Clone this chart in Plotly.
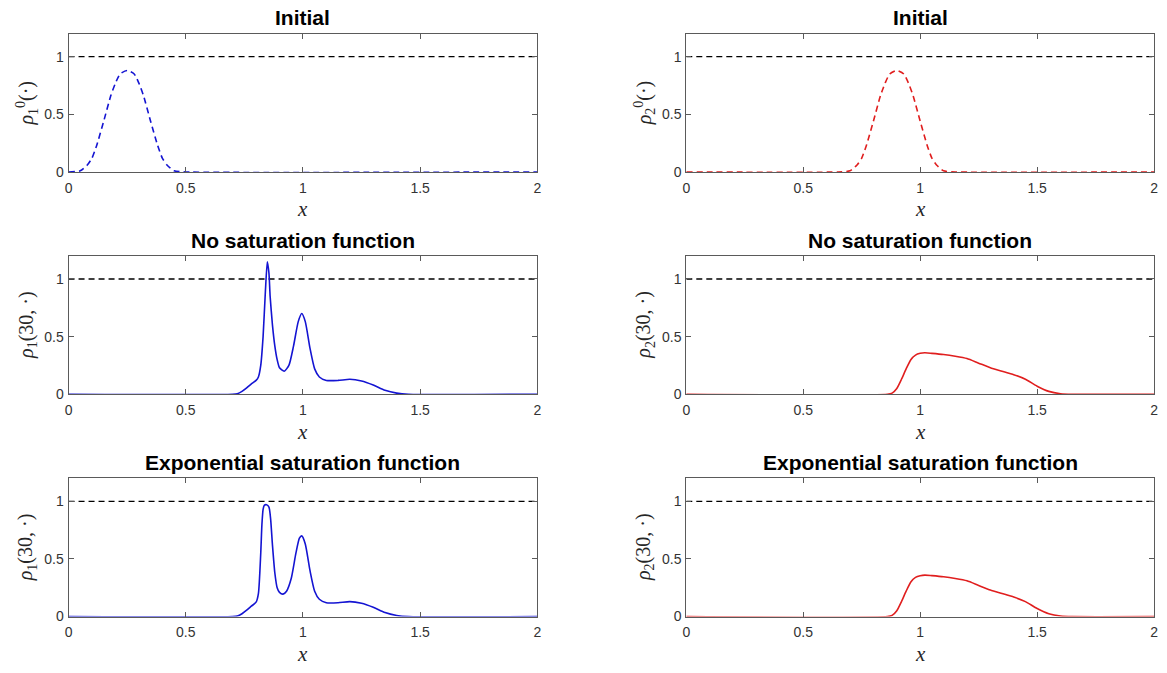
import plotly.graph_objects as go

# ---------------- data ----------------
ref_x = [0, 2]
ref_y = [1, 1]

x_init1 = [0, 0.05, 0.08, 0.10, 0.12, 0.15, 0.18, 0.20, 0.22, 0.25, 0.28, 0.30, 0.32, 0.35, 0.38, 0.40, 0.42, 0.45, 0.50, 2.0]
y_init1 = [0, 0.01, 0.06, 0.12, 0.23, 0.44, 0.66, 0.77, 0.85, 0.88, 0.85, 0.77, 0.66, 0.44, 0.23, 0.12, 0.06, 0.01, 0.0, 0.0]

x_init2 = [0, 0.65, 0.70, 0.73, 0.75, 0.77, 0.80, 0.83, 0.85, 0.87, 0.90, 0.93, 0.95, 0.97, 1.00, 1.03, 1.05, 1.07, 1.10, 1.15, 2.0]
y_init2 = [0, 0.0, 0.01, 0.06, 0.12, 0.23, 0.44, 0.66, 0.77, 0.85, 0.88, 0.85, 0.77, 0.66, 0.44, 0.23, 0.12, 0.06, 0.01, 0.0, 0.0]

x_nosat1 = [0, 0.70, 0.72, 0.74, 0.76, 0.78, 0.80, 0.81, 0.82, 0.83, 0.84, 0.848, 0.855, 0.86, 0.87, 0.88, 0.89, 0.90,
            0.92, 0.94, 0.96, 0.98, 0.995, 1.01, 1.03, 1.05, 1.07, 1.10, 1.15, 1.20, 1.25, 1.30, 1.35, 1.40, 1.45, 2.0]
y_nosat1 = [0, 0.0, 0.005, 0.025, 0.055, 0.09, 0.12, 0.15, 0.25, 0.50, 0.90, 1.15, 1.05, 0.85, 0.60, 0.42, 0.30, 0.23,
            0.20, 0.25, 0.42, 0.63, 0.70, 0.63, 0.40, 0.22, 0.15, 0.12, 0.12, 0.13, 0.115, 0.08, 0.035, 0.01, 0.0, 0.0]

x_expsat1 = [0, 0.70, 0.72, 0.74, 0.76, 0.78, 0.80, 0.81, 0.82, 0.825, 0.83, 0.835, 0.845, 0.855, 0.862, 0.87, 0.88, 0.89,
             0.90, 0.915, 0.93, 0.95, 0.97, 0.985, 0.995, 1.01, 1.03, 1.05, 1.07, 1.10, 1.15, 1.20, 1.25, 1.30, 1.35, 1.40, 1.45, 2.0]
y_expsat1 = [0, 0.0, 0.005, 0.025, 0.055, 0.09, 0.125, 0.20, 0.55, 0.80, 0.93, 0.965, 0.97, 0.95, 0.85, 0.62, 0.38, 0.25,
             0.21, 0.195, 0.22, 0.33, 0.55, 0.68, 0.70, 0.63, 0.40, 0.22, 0.15, 0.12, 0.12, 0.13, 0.115, 0.08, 0.035, 0.01, 0.0, 0.0]

x_rho2 = [0, 0.86, 0.88, 0.90, 0.92, 0.94, 0.96, 0.98, 1.00, 1.02, 1.05, 1.10, 1.15, 1.20, 1.25, 1.30, 1.35, 1.40, 1.45, 1.50, 1.55, 1.60, 1.65, 2.0]
y_nosat2 = [0, 0.0, 0.01, 0.05, 0.13, 0.22, 0.30, 0.34, 0.355, 0.36, 0.355, 0.345, 0.33, 0.31, 0.27, 0.23, 0.20, 0.17, 0.13, 0.07, 0.025, 0.005, 0.0, 0.0]
y_expsat2 = [0, 0.0, 0.01, 0.05, 0.13, 0.22, 0.30, 0.34, 0.355, 0.36, 0.355, 0.345, 0.33, 0.31, 0.27, 0.23, 0.20, 0.17, 0.13, 0.07, 0.025, 0.005, 0.0, 0.0]

titles = ["Initial", "Initial", "No saturation function", "No saturation function",
          "Exponential saturation function", "Exponential saturation function"]
ylabels = ["<i>ρ</i><sub>1</sub><sup>0</sup>(·)", "<i>ρ</i><sub>2</sub><sup>0</sup>(·)",
           "<i>ρ</i><sub>1</sub>(30, ·)", "<i>ρ</i><sub>2</sub>(30, ·)",
           "<i>ρ</i><sub>1</sub>(30, ·)", "<i>ρ</i><sub>2</sub>(30, ·)"]
x_ticks = [0, 0.5, 1, 1.5, 2]
x_ticktext = ["0", "0.5", "1", "1.5", "2"]
y_ticks = [0, 0.5, 1]
y_ticktext = ["0", "0.5", "1"]

BLUE = "#1414d2"
RED = "#e01e1e"

series = [
    (x_init1, y_init1, BLUE, "dash"),
    (x_init2, y_init2, RED, "dash"),
    (x_nosat1, y_nosat1, BLUE, "solid"),
    (x_rho2, y_nosat2, RED, "solid"),
    (x_expsat1, y_expsat1, BLUE, "solid"),
    (x_rho2, y_expsat2, RED, "solid"),
]

# ---------------- layout geometry (pixels) ----------------
W, H = 1167, 673
col_px = [(65, 537), (687, 1158)]
row_px = [(34, 174), (259, 399), (484, 624)]

fig = go.Figure()
layout = dict(width=W, height=H, margin=dict(l=0, r=0, t=0, b=0),
              paper_bgcolor="white", plot_bgcolor="white", showlegend=False,
              font=dict(family="Liberation Sans, Arial, sans-serif", size=14, color="#262626"))
annotations = []

for i in range(6):
    r, c = divmod(i, 2)
    x0, x1 = col_px[c]
    top, bot = row_px[r]
    xd = [x0 / W, x1 / W]
    yd = [1 - bot / H, 1 - top / H]
    suffix = "" if i == 0 else str(i + 1)
    xa, ya = "x" + suffix, "y" + suffix
    xs, ys, color, dash = series[i]

    fig.add_trace(go.Scatter(x=ref_x, y=ref_y, mode="lines", xaxis=xa, yaxis=ya,
                             line=dict(color="black", width=1.3, dash="6px,4px"), hoverinfo="skip"))
    fig.add_trace(go.Scatter(x=xs, y=ys, mode="lines", xaxis=xa, yaxis=ya,
                             line=dict(color=color, width=1.6, dash="6px,4px" if dash == "dash" else "solid",
                                       shape="spline", smoothing=0.6)))

    axis_common = dict(showline=True, linecolor="#5a5a5a", linewidth=1, mirror="allticks",
                       ticks="inside", ticklen=5, tickcolor="#5a5a5a", tickwidth=1,
                       showgrid=False, zeroline=False,
                       tickfont=dict(family="Liberation Sans, Arial, sans-serif", size=14, color="#333333"))
    layout["xaxis" + suffix] = dict(domain=xd, range=[0, 2], tickvals=x_ticks, ticktext=x_ticktext,
                                    anchor=ya, ticklabelstandoff=3, **axis_common)
    layout["yaxis" + suffix] = dict(domain=yd, range=[0, 1.2], tickvals=y_ticks, ticktext=y_ticktext,
                                    anchor=xa, ticklabelstandoff=1, **axis_common)

    cx = (x0 + x1) / 2 / W
    annotations.append(dict(text="<b>" + titles[i] + "</b>", xref="paper", yref="paper",
                            x=cx, y=1 - (top - 16) / H, showarrow=False, xanchor="center", yanchor="middle",
                            font=dict(family="Liberation Sans, Arial, sans-serif", size=21, color="black")))
    annotations.append(dict(text="<i>x</i>", xref="paper", yref="paper",
                            x=cx, y=1 - (bot + 38) / H, showarrow=False, xanchor="center", yanchor="middle",
                            font=dict(family="Liberation Serif, DejaVu Serif, serif", size=21, color="#262626")))
    annotations.append(dict(text=ylabels[i], xref="paper", yref="paper",
                            x=(x0 - 42) / W, y=1 - (top + bot) / 2 / H, showarrow=False, textangle=-90,
                            xanchor="center", yanchor="middle",
                            font=dict(family="Liberation Serif, DejaVu Serif, serif", size=20, color="#262626")))

layout["annotations"] = annotations
fig.update_layout(**layout)
fig.write_html("out.html")
